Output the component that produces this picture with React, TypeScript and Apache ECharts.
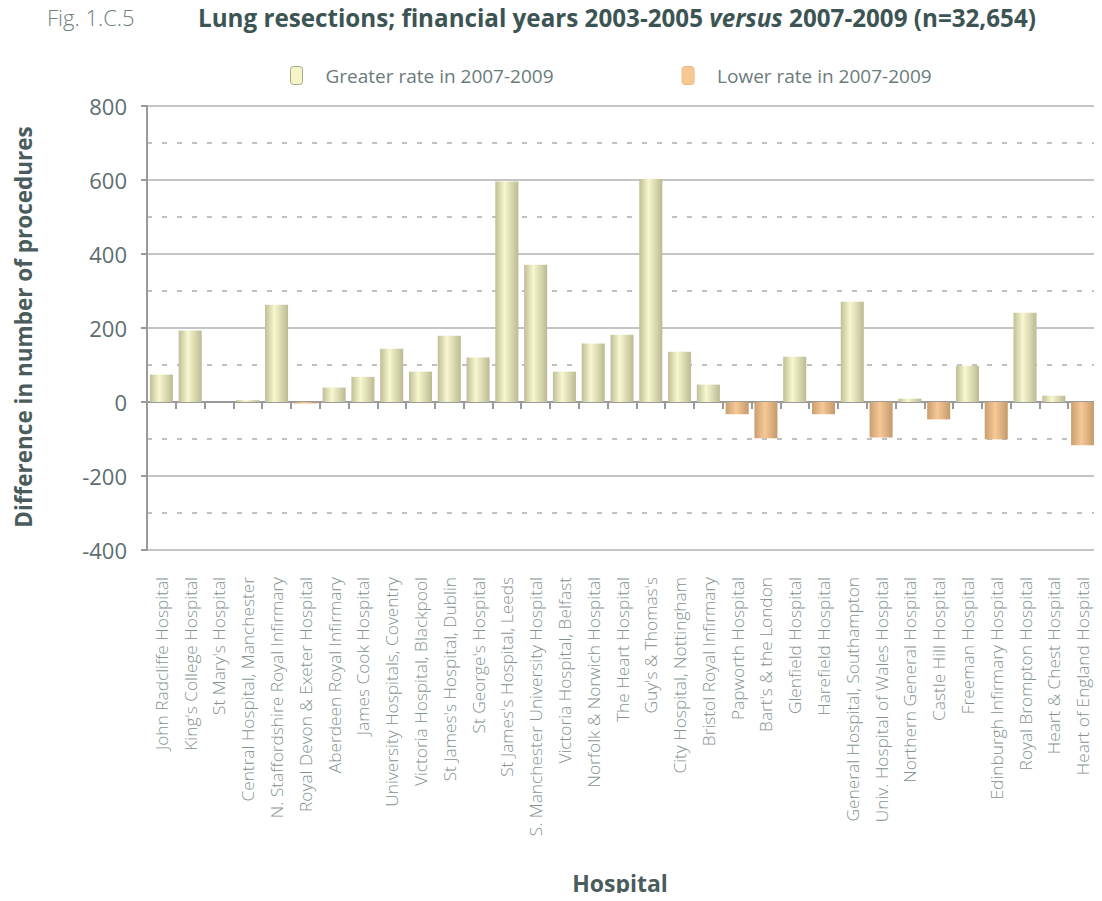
import React, { useEffect, useRef } from "react";
import * as echarts from "echarts";

const hospitals = [
  "John Radcliffe Hospital",
  "King's College Hospital",
  "St Mary's Hospital",
  "Central Hospital, Manchester",
  "N. Staffordshire Royal Infirmary",
  "Royal Devon & Exeter Hospital",
  "Aberdeen Royal Infirmary",
  "James Cook Hospital",
  "University Hospitals, Coventry",
  "Victoria Hospital, Blackpool",
  "St James's Hospital, Dublin",
  "St George's Hospital",
  "St James's Hospital, Leeds",
  "S. Manchester University Hospital",
  "Victoria Hospital, Belfast",
  "Norfolk & Norwich Hospital",
  "The Heart Hospital",
  "Guy's & Thomas's",
  "City Hospital, Nottingham",
  "Bristol Royal Infirmary",
  "Papworth Hospital",
  "Bart's & the London",
  "Glenfield Hospital",
  "Harefield Hospital",
  "General Hospital, Southampton",
  "Univ. Hospital of Wales Hospital",
  "Northern General Hospital",
  "Castle Hill Hospital",
  "Freeman Hospital",
  "Edinburgh Infirmary Hospital",
  "Royal Brompton Hospital",
  "Heart & Chest Hospital",
  "Heart of England Hospital",
];

const differences = [
  74, 193, 0, 5, 263, -4, 39, 68, 144, 82, 179, 120, 596, 371, 82, 158,
  182, 603, 136, 47, -33, -98, 122, -33, 271, -96, 9, -47, 98, -101, 241, 17, -117,
];

const yTicks = { min: -400, max: 800, interval: 200 };
const legendNames = ["Greater rate in 2007-2009", "Lower rate in 2007-2009"];

const FONT = "'Open Sans', 'Noto Sans', sans-serif";

export default function App() {
  const ref = useRef<HTMLDivElement>(null);
  useEffect(() => {
    if (!ref.current) return;
    const chart = echarts.init(ref.current, null, { renderer: "svg" });
    const greater = differences.map((v) => (v >= 0 ? v : "-"));
    const lower = differences.map((v) => (v < 0 ? v : "-"));
    const gGreater = new echarts.graphic.LinearGradient(0, 0, 1, 0, [
      { offset: 0, color: "#bfbe96" },
      { offset: 0.4, color: "#f8f8d0" },
      { offset: 1, color: "#bbba92" },
    ]);
    const gLower = new echarts.graphic.LinearGradient(0, 0, 1, 0, [
      { offset: 0, color: "#c89f70" },
      { offset: 0.45, color: "#f8c896" },
      { offset: 1, color: "#c39a6b" },
    ]);
    chart.setOption({
      animation: false,
      backgroundColor: "#ffffff",
      textStyle: { fontFamily: FONT },
      title: {
        text:
          "{b|Lung resections; financial years 2003-2005 }{i|versus}{b| 2007-2009 (n=32,654)}",
        left: 193,
        top: 0,
        textStyle: {
          rich: {
            b: { fontFamily: FONT, fontWeight: "bold", fontSize: 24.2, color: "#3d5454" },
            i: {
              fontFamily: FONT,
              fontWeight: "bold",
              fontStyle: "italic",
              fontSize: 24.2,
              color: "#3d5454",
            },
          },
        },
      },
      legend: {
        left: 285,
        top: 61,
        itemWidth: 12,
        itemHeight: 18,
        itemGap: 128,
        icon: "roundRect",
        textStyle: {
          fontFamily: FONT,
          fontSize: 19,
          color: "#6b7b7b",
          padding: [0, 0, 0, 18],
        },
        data: [
          {
            name: legendNames[0],
            itemStyle: { color: "#f5f5c8", borderColor: "#a8a890", borderWidth: 1 },
          },
          {
            name: legendNames[1],
            itemStyle: { color: "#f8c893", borderColor: "#f0b880", borderWidth: 1 },
          },
        ],
      },
      grid: { left: 147, right: 5, top: 106, bottom: 351, containLabel: false },
      xAxis: [
        {
          type: "category",
          data: hospitals,
          axisLine: { onZero: true, lineStyle: { color: "#9a9a9a", width: 2 } },
          axisTick: {
            show: true,
            interval: 0,
            length: 7,
            lineStyle: { color: "#9a9a9a", width: 2 },
          },
          axisLabel: { show: false, interval: 0 },
          splitLine: { show: false },
        },
        {
          type: "category",
          data: hospitals,
          position: "bottom",
          axisLine: { show: false, onZero: false },
          axisTick: { show: false },
          axisLabel: {
            show: true,
            interval: 0,
            rotate: 90,
            margin: 27,
            fontFamily: FONT,
            fontSize: 17.3,
            fontWeight: 300,
            color: "#84928f",
          },
          splitLine: { show: false },
        },
      ],
      yAxis: {
        type: "value",
        min: yTicks.min,
        max: yTicks.max,
        interval: yTicks.interval,
        axisLine: { show: true, lineStyle: { color: "#9a9a9a", width: 2 } },
        axisTick: { show: true, length: 6, lineStyle: { color: "#9a9a9a", width: 2 } },
        axisLabel: {
          margin: 20,
          fontFamily: FONT,
          fontSize: 22,
          color: "#5d6e6e",
        },
        splitLine: { show: true, lineStyle: { color: "#c4c4c4", width: 2 } },
        minorTick: { show: false, splitNumber: 2 },
        minorSplitLine: {
          show: true,
          lineStyle: { color: "#c0c0c0", width: 2, type: [5, 10] },
        },
      },
      series: [
        {
          name: legendNames[0],
          type: "bar",
          xAxisIndex: 0,
          data: greater,
          barCategoryGap: "20%",
          barGap: "-100%",
          itemStyle: { color: gGreater },
        },
        {
          name: legendNames[1],
          type: "bar",
          xAxisIndex: 0,
          data: lower,
          barCategoryGap: "20%",
          barGap: "-100%",
          itemStyle: { color: gLower },
        },
      ],
      graphic: [
        {
          type: "text",
          left: 47,
          top: 6,
          style: {
            text: "Fig. 1.C.5",
            fontFamily: FONT,
            fontSize: 22,
            fontWeight: 300,
            fill: "#6f8080",
          },
        },
        {
          type: "text",
          x: 23,
          y: 327,
          rotation: Math.PI / 2,
          style: {
            text: "Difference in number of procedures",
            fontFamily: FONT,
            fontSize: 22.5,
            fontWeight: "bold",
            fill: "#4a5c5c",
            textAlign: "center",
            textVerticalAlign: "middle",
          },
        },
        {
          type: "text",
          x: 620,
          y: 883,
          style: {
            text: "Hospital",
            fontFamily: FONT,
            fontSize: 23,
            fontWeight: "bold",
            fill: "#4a5c5c",
            textAlign: "center",
            textVerticalAlign: "middle",
          },
        },
      ],
    });
    return () => chart.dispose();
  }, []);
  return <div ref={ref} style={{ width: 1102, height: 901, margin: -8 }} />;
}
